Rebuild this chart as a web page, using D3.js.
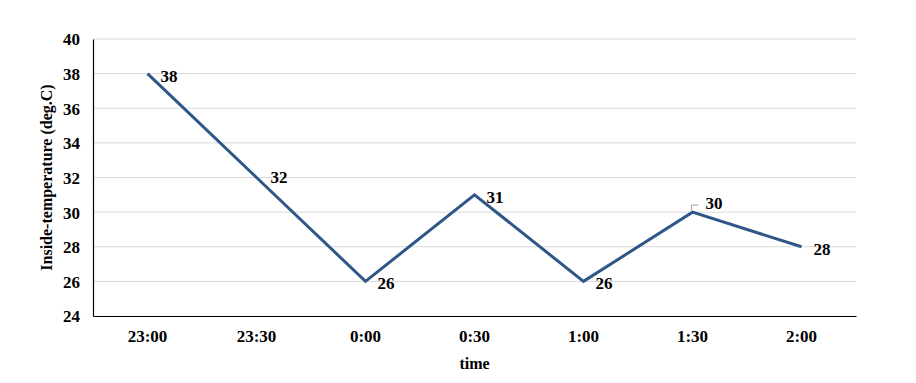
<!DOCTYPE html>
<html><head><meta charset="utf-8">
<script src="https://cdn.jsdelivr.net/npm/d3@7"></script>
<style>body{margin:0;background:#fff;} text{font-family:"Liberation Serif","Times New Roman",serif;font-weight:bold;fill:#000;}</style>
</head><body><svg id="c" width="916" height="383"></svg>
<script>
const categories = ["23:00","23:30","0:00","0:30","1:00","1:30","2:00"];
const temps = [38,32,26,31,26,30,28];
const yTicks = [24,26,28,30,32,34,36,38,40];
const yTitle = "Inside-temperature (deg.C)";
const xTitle = "time";

const svg = d3.select("#c");
const L=93,R=856,T=39,B=316;
const x = d3.scaleBand().domain(categories).range([L,R]);
const y = d3.scaleLinear().domain([24,40]).range([B,T]);
const cx = d => x(d)+x.bandwidth()/2;

// gridlines
svg.append("g").selectAll("line").data(yTicks.filter(t=>t>24)).join("line")
  .attr("x1",L).attr("x2",R).attr("y1",d=>y(d)).attr("y2",d=>y(d))
  .attr("stroke","#d9d9d9").attr("stroke-width",1);

// y axis
const ya = svg.append("g").attr("transform",`translate(${L},0)`)
  .call(d3.axisLeft(y).tickValues(yTicks).tickSize(0).tickPadding(13));
ya.select(".domain").attr("stroke","#000").attr("stroke-width",1.2);
ya.selectAll("text").style("font-size","17px").attr("dy","0.35em");

// x axis
const xa = svg.append("g").attr("transform",`translate(0,${B})`)
  .call(d3.axisBottom(x).tickSize(0).tickPadding(14));
xa.select(".domain").attr("stroke","#000").attr("stroke-width",1.2);
xa.selectAll("text").style("font-size","17px");

// titles
svg.append("text").attr("transform",`translate(52,${(T+B)/2}) rotate(-90)`)
  .attr("text-anchor","middle").style("font-size","16px").text(yTitle);
svg.append("text").attr("x",(L+R)/2).attr("y",369).attr("text-anchor","middle")
  .style("font-size","16px").text(xTitle);

// line
const pts = categories.map((c,i)=>({c,v:temps[i]}));
svg.append("path").datum(pts)
  .attr("d",d3.line().x(d=>cx(d.c)).y(d=>y(d.v)))
  .attr("fill","none").attr("stroke","#2e5686").attr("stroke-width",3).attr("stroke-linejoin","miter");

// labels
pts.forEach((d,i)=>{
  const px=cx(d.c), py=y(d.v);
  if(i===5){
    svg.append("path").attr("d",`M${px-1},${py-2}V${py-7}H${px+6}`)
      .attr("fill","none").attr("stroke","#a6a6a6").attr("stroke-width",1);
    svg.append("text").attr("x",px+13).attr("y",py-9).attr("dy","0.35em")
      .style("font-size","17px").text(d.v);
  } else {
    svg.append("text").attr("x",px+(i===0?13:i===1?14:12)).attr("y",py+(i===1?0:2)).attr("dy","0.35em")
      .style("font-size","17px").text(d.v);
  }
});
</script></body></html>
